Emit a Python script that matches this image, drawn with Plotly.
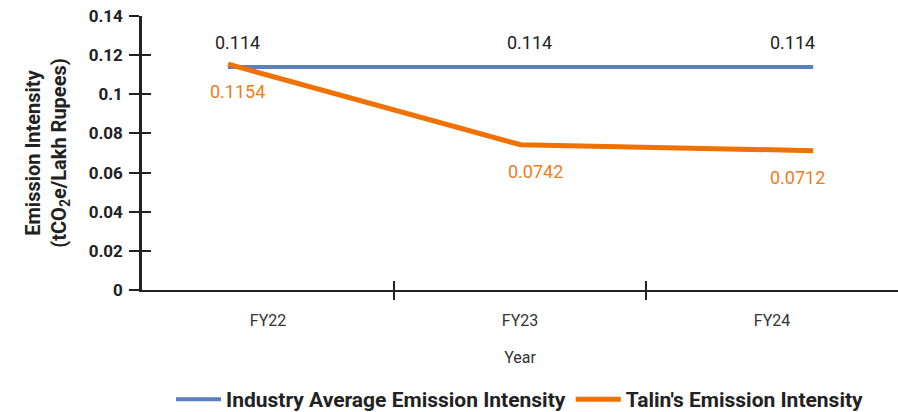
import plotly.graph_objects as go

# ---- data ----
categories = ["FY22", "FY23", "FY24"]
industry_avg = [0.114, 0.114, 0.114]
talin = [0.1154, 0.0742, 0.0712]
y_ticks = [0, 0.02, 0.04, 0.06, 0.08, 0.1, 0.12, 0.14]
series_names = ["Industry Average Emission Intensity", "Talin's Emission Intensity"]

# ---- style ----
BLUE = "#5B7FC5"
ORANGE = "#EF7100"
ORANGE_TXT = "#EF7D1C"
INK = "#222222"
FONT = "Roboto"
blue_lbl_dx = [9, 9, -21]
orange_lbl_dx = [9, 15, -16]

idx = list(range(len(categories)))
x_range = [-0.5, len(categories) - 0.5]
line_x_range = [-0.294, 2.29]
y_range = [0, 0.14]

fig = go.Figure()
fig.add_trace(go.Scatter(x=idx, y=industry_avg, mode="lines", name=series_names[0],
                         line=dict(color=BLUE, width=4), xaxis="x4", yaxis="y",
                         hoverinfo="skip"))
fig.add_trace(go.Scatter(x=idx, y=talin, mode="lines", name=series_names[1],
                         line=dict(color=ORANGE, width=5), xaxis="x4", yaxis="y",
                         hoverinfo="skip"))
# invisible carriers so every helper axis is drawn
for xa, ya in [("x", "y"), ("x2", "y"), ("x3", "y"), ("x", "y2")]:
    fig.add_trace(go.Scatter(x=idx, y=industry_avg, mode="lines", line=dict(width=0),
                             opacity=0, showlegend=False, hoverinfo="skip",
                             xaxis=xa, yaxis=ya))

annotations = []
for i, v in enumerate(industry_avg):
    annotations.append(dict(x=idx[i], y=v, xref="x4", yref="y", text=str(v), showarrow=False,
                            yshift=24, xshift=blue_lbl_dx[i],
                            font=dict(size=18, color=INK, family=FONT)))
for i, v in enumerate(talin):
    annotations.append(dict(x=idx[i], y=v, xref="x4", yref="y", text=str(v), showarrow=False,
                            yshift=-27, xshift=orange_lbl_dx[i],
                            font=dict(size=18, color=ORANGE_TXT, family=FONT)))

boundary_ticks = [i + 0.5 for i in idx[:-1]]
tick_common = dict(showgrid=False, zeroline=False, fixedrange=True)

fig.update_layout(
    width=898, height=412,
    margin=dict(l=142, r=0, t=16, b=122, autoexpand=False),
    plot_bgcolor="white", paper_bgcolor="white",
    font=dict(family=FONT, color=INK),
    showlegend=True,
    legend=dict(orientation="h", x=0.5, xanchor="center", y=-0.40, yanchor="middle",
                font=dict(size=21, color=INK, family=FONT, weight="bold"),
                itemwidth=45, borderwidth=0, tracegroupgap=0),
    annotations=annotations,
    xaxis=dict(range=x_range, tickvals=idx, ticktext=categories, ticks="",
               showline=True, linecolor=INK, linewidth=2,
               tickfont=dict(size=16, color="#333333"), ticklabelstandoff=15,
               title=dict(text="Year", font=dict(size=16, color="#333333"), standoff=23),
               **tick_common),
    xaxis2=dict(overlaying="x", range=x_range, tickvals=boundary_ticks, ticks="outside",
                ticklen=9, tickwidth=2, tickcolor=INK, showticklabels=False,
                showline=False, **tick_common),
    xaxis3=dict(overlaying="x", range=x_range, tickvals=boundary_ticks, ticks="inside",
                ticklen=9, tickwidth=2, tickcolor=INK, showticklabels=False,
                showline=False, **tick_common),
    xaxis4=dict(overlaying="x", range=line_x_range, visible=False, **tick_common),
    yaxis=dict(range=y_range, tickvals=y_ticks, ticks="outside", ticklen=10, tickwidth=2,
               tickcolor=INK, showline=True, linecolor=INK, linewidth=2.5,
               tickfont=dict(size=17, color=INK, weight="bold"), ticklabelstandoff=3,
               title=dict(text="Emission Intensity<br>(tCO<sub>2</sub>e/Lakh Rupees)",
                          font=dict(size=20, color=INK, weight="bold"), standoff=17),
               **tick_common),
    yaxis2=dict(overlaying="y", range=y_range, tickvals=y_ticks, ticks="inside", ticklen=9,
                tickwidth=2, tickcolor=INK, showticklabels=False, showline=False,
                **tick_common),
)

fig.write_html("out.html", config={"displayModeBar": False},
               post_script="document.body.style.margin='0';")
